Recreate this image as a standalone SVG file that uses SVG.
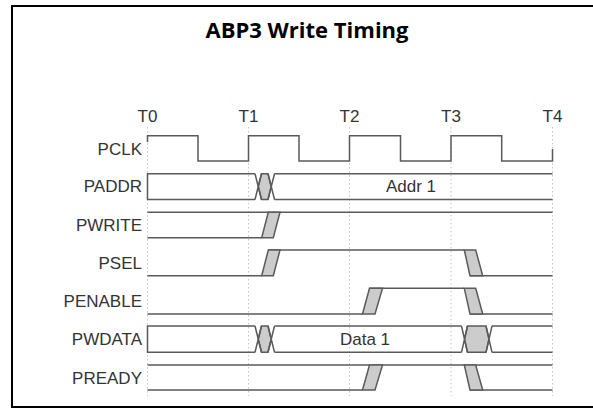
<svg xmlns="http://www.w3.org/2000/svg" width="593" height="410" viewBox="0 0 593 410">
  <style>
    .frame { fill: #ffffff; stroke: #000000; stroke-width: 2; }
    .title { font-family: "Open Sans", "Liberation Sans", sans-serif; font-weight: bold; font-size: 22px; fill: #000000; text-anchor: middle; }
    .tick { font-family: "Liberation Sans", Arial, sans-serif; font-size: 17px; fill: #333333; text-anchor: middle; }
    .sig { font-family: "Liberation Sans", Arial, sans-serif; font-size: 17px; fill: #333333; text-anchor: end; }
    .val { font-family: "Liberation Sans", Arial, sans-serif; font-size: 17px; fill: #333333; text-anchor: middle; }
    .grid { stroke: #c4c4c4; stroke-width: 1; stroke-dasharray: 1.5 2.5; fill: none; }
    .wave { fill: none; stroke: #5a5a5a; stroke-width: 1.5; stroke-linejoin: miter; }
    .edge { fill: #cccccc; stroke: #5a5a5a; stroke-width: 1.5; stroke-linejoin: miter; }
  </style>

  <!-- outer frame (right edge runs past the canvas) -->
  <rect class="frame" x="12" y="6" width="600" height="401"/>

  <text class="title" x="307" y="38">ABP3 Write Timing</text>

  <!-- clock edge markers -->
  <g id="time-grid">
    <line class="grid" x1="147.5" y1="127" x2="147.5" y2="396"/>
    <line class="grid" x1="248.5" y1="127" x2="248.5" y2="396"/>
    <line class="grid" x1="349.5" y1="127" x2="349.5" y2="396"/>
    <line class="grid" x1="451" y1="127" x2="451" y2="396"/>
    <line class="grid" x1="552.5" y1="127" x2="552.5" y2="396"/>
    <text class="tick" x="147.5" y="122">T0</text>
    <text class="tick" x="248.5" y="122">T1</text>
    <text class="tick" x="349.5" y="122">T2</text>
    <text class="tick" x="451" y="122">T3</text>
    <text class="tick" x="552.5" y="122">T4</text>
  </g>

  <g id="pclk">
    <text class="sig" x="142" y="155">PCLK</text>
    <path class="wave" d="M147.5,142 V135.7 H198 V161 H248.5 V135.7 H299 V161 H349.5 V135.7 H400.5 V161 H451 V135.7 H501.7 V161 H552.5 V149"/>
  </g>

  <g id="paddr">
    <text class="sig" x="142" y="192">PADDR</text>
    <polygon class="edge" points="258.25,186.6 261.5,173.7 268,173.7 271.25,186.6 268,199.5 261.5,199.5"/>
    <path class="wave" d="M255,173.7 H147.5 V199.5 H255 M255,173.7 L261.5,199.5 M255,199.5 L261.5,173.7 M268,173.7 L274.5,199.5 M268,199.5 L274.5,173.7 M274.5,173.7 H552.5 M274.5,199.5 H552.5"/>
    <text class="val" x="411" y="192">Addr 1</text>
  </g>

  <g id="pwrite">
    <text class="sig" x="142" y="231">PWRITE</text>
    <path class="wave" d="M147.5,212.3 H552.5 M147.5,237.7 H261.7"/>
    <polygon class="edge" points="261.7,237.7 273.3,237.7 280,212.3 268.3,212.3"/>
  </g>

  <g id="psel">
    <text class="sig" x="142" y="269">PSEL</text>
    <path class="wave" d="M147.5,275.7 H261.7 M268.3,250 H464.3 M470,275.7 H552.5"/>
    <polygon class="edge" points="261.7,275.7 273.3,275.7 280,250 268.3,250"/>
    <polygon class="edge" points="464.3,250 475.7,250 482.7,275.7 470,275.7"/>
  </g>

  <g id="penable">
    <text class="sig" x="142" y="307">PENABLE</text>
    <path class="wave" d="M147.5,314 H362.5 M369.5,288.3 H464.3 M470,314 H552.5"/>
    <polygon class="edge" points="362.5,314 375,314 382.5,288.3 369.5,288.3"/>
    <polygon class="edge" points="464.3,288.3 475.7,288.3 482.7,314 470,314"/>
  </g>

  <g id="pwdata">
    <text class="sig" x="142" y="345">PWDATA</text>
    <polygon class="edge" points="258.25,339.15 261.5,326 268,326 271.25,339.15 268,352.3 261.5,352.3"/>
    <polygon class="edge" points="464.5,339.15 467.5,326 486,326 489,339.15 486,352.3 467.5,352.3"/>
    <path class="wave" d="M255,326 H147.5 V352.3 H255 M255,326 L261.5,352.3 M255,352.3 L261.5,326 M268,326 L274.5,352.3 M268,352.3 L274.5,326 M274.5,326 H461.5 M274.5,352.3 H461.5 M461.5,326 L467.5,352.3 M461.5,352.3 L467.5,326 M486,326 L492,352.3 M486,352.3 L492,326 M492,326 H552.5 M492,352.3 H552.5"/>
    <text class="val" x="365" y="345">Data 1</text>
  </g>

  <g id="pready">
    <text class="sig" x="142" y="384">PREADY</text>
    <path class="wave" d="M147.5,365 H552.5 M147.5,390 H362.5 M470,390 H552.5"/>
    <polygon class="edge" points="362.5,390 375,390 382.5,365 369.5,365"/>
    <polygon class="edge" points="464.3,365 475.7,365 482.7,390 470,390"/>
  </g>
</svg>
